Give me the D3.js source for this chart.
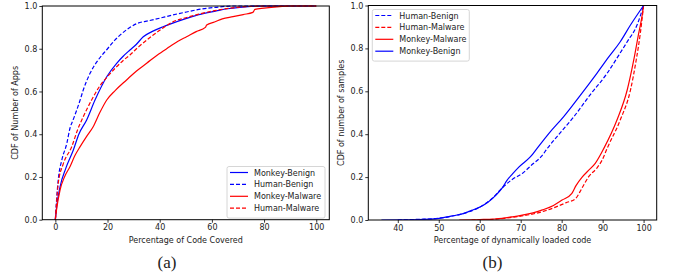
<!DOCTYPE html>
<html>
<head>
<meta charset="utf-8">
<script src="https://cdn.jsdelivr.net/npm/d3@7"></script>
<style>
  body { margin: 0; background: #fff; }
  svg text { font-family: "DejaVu Sans", sans-serif; fill: #222; }
</style>
</head>
<body>
<svg id="chart" width="673" height="276"></svg>
<script>
// ---- data: [x, cdf] ----
// (a) code coverage
const aMonkeyBenign = [[0,0],[0.5,0.06],[1.8,0.154],[4,0.24],[6.9,0.326],[9,0.4],[12,0.467],[15.2,0.56],[19.7,0.669],[23.5,0.732],[26,0.765],[28.6,0.794],[31,0.82],[33.7,0.856],[37,0.88],[41.3,0.903],[45,0.92],[50.3,0.942],[55,0.96],[61.7,0.977],[66,0.987],[70.7,0.994],[75,0.998],[80,1],[100,1]];
const aHumanBenign = [[0,0],[0.4,0.08],[1.1,0.186],[2.5,0.28],[4.4,0.357],[5.6,0.428],[6.9,0.47],[9.5,0.56],[10.7,0.607],[13.3,0.685],[16.4,0.747],[20,0.8],[22.8,0.84],[25,0.866],[28,0.895],[31.1,0.917],[36.2,0.932],[40,0.943],[45,0.958],[50.3,0.972],[55,0.984],[61.7,0.994],[68,1],[100,1]];
const aMonkeyMalware = [[0,0],[0.5,0.05],[1.8,0.139],[3.5,0.2],[5.6,0.248],[7.5,0.3],[9.5,0.342],[12,0.39],[14.5,0.435],[17,0.5],[19.7,0.56],[23,0.605],[27.3,0.654],[31,0.695],[35,0.732],[39,0.77],[43.9,0.81],[47,0.835],[50.3,0.856],[54,0.88],[57.5,0.9],[58,0.911],[61,0.925],[64,0.94],[68.1,0.95],[72,0.96],[75.7,0.97],[76.5,0.984],[80,0.99],[86,0.997],[90,1],[100,1]];
const aHumanMalware = [[0,0],[0.4,0.07],[1.1,0.17],[3,0.26],[6.3,0.342],[8.5,0.42],[10.7,0.482],[13.9,0.56],[17,0.625],[20,0.67],[23,0.71],[26,0.745],[28.6,0.771],[32,0.81],[35,0.84],[37.5,0.864],[41,0.895],[45.1,0.926],[50,0.945],[55,0.962],[61,0.978],[67,0.99],[73,0.997],[80,1],[100,1]];

// (b) dynamically loaded code
const bHumanBenign = [[40,0],[45,0.003],[50,0.008],[53,0.017],[56,0.03],[60,0.06],[63,0.1],[65.5,0.15],[68,0.19],[70.4,0.217],[73,0.262],[75,0.295],[76.5,0.334],[79.8,0.41],[83,0.482],[87,0.585],[91.1,0.684],[94,0.77],[96,0.831],[98.4,0.909],[100,1]];
const bHumanMalware = [[58,0],[62,0.002],[66,0.008],[70,0.018],[73,0.028],[76,0.043],[78.5,0.06],[81,0.08],[83.4,0.1],[85,0.15],[86.6,0.202],[88.5,0.24],[89.9,0.28],[91.1,0.334],[94.3,0.466],[96.8,0.606],[98.2,0.746],[99.2,0.87],[100,1]];
const bMonkeyMalware = [[55,0],[60,0.002],[65.5,0.008],[68,0.015],[70.4,0.023],[73,0.033],[75.3,0.047],[78,0.068],[80.1,0.093],[82.5,0.124],[83.5,0.16],[85,0.2],[86.5,0.23],[88.2,0.264],[90.3,0.334],[93.5,0.466],[96,0.606],[97.6,0.746],[98.8,0.87],[99.6,0.948],[100,1]];
const bMonkeyBenign = [[36,0],[45,0.002],[50.1,0.008],[53,0.018],[56.2,0.031],[58,0.045],[60.2,0.062],[62,0.083],[63.9,0.115],[65.5,0.15],[66.7,0.186],[68,0.215],[69.6,0.248],[72.4,0.295],[74,0.334],[76.9,0.404],[80.5,0.482],[84.5,0.58],[88.6,0.684],[91.5,0.76],[94.3,0.831],[96.8,0.909],[100,1]];

const aXTicks = [0, 20, 40, 60, 80, 100];
const bXTicks = [40, 50, 60, 70, 80, 90, 100];
const yTicks = [0, 0.2, 0.4, 0.6, 0.8, 1.0];

const blue = "#0000ff", red = "#ff0000";

const svg = d3.select("#chart");

function drawPanel(cfg) {
    const x = d3.scaleLinear().domain(cfg.xDomain).range([cfg.left, cfg.right]);
    const y = d3.scaleLinear().domain([0, 1]).range([cfg.bottom, cfg.top]);
    const g = svg.append("g");

    // clip so flat tails at y=1 sit under the top spine
    const clipId = "clip-" + cfg.id;
    svg.append("clipPath").attr("id", clipId).append("rect")
        .attr("x", cfg.left).attr("y", cfg.top - 1)
        .attr("width", cfg.right - cfg.left).attr("height", cfg.bottom - cfg.top + 1);

    const line = d3.line().curve(d3.curveMonotoneX).x(d => x(d[0])).y(d => y(d[1]));
    const lines = g.append("g").attr("clip-path", `url(#${clipId})`);
    cfg.series.forEach(s => {
        lines.append("path")
            .attr("d", line(s.data))
            .attr("fill", "none")
            .attr("stroke", s.color)
            .attr("stroke-width", 1.2)
            .attr("stroke-dasharray", s.dashed ? "4,2" : null);
    });

    const xAxis = d3.axisBottom(x).tickValues(cfg.xTicks).tickSize(3).tickPadding(2).tickFormat(d3.format("d"));
    const yAxis = d3.axisLeft(y).tickValues(yTicks).tickSize(3).tickPadding(2).tickFormat(d3.format(".1f"));

    const gx = g.append("g").attr("transform", `translate(0,${cfg.bottom})`).call(xAxis);
    const gy = g.append("g").attr("transform", `translate(${cfg.left},0)`).call(yAxis);
    [gx, gy].forEach(a => {
        a.select(".domain").remove();
        a.selectAll("line").attr("stroke", "#000").attr("stroke-width", 0.8);
        a.selectAll("text").attr("font-size", 8).attr("fill", "#222")
            .style("font-family", "DejaVu Sans, sans-serif");
    });

    // spines
    g.append("rect")
        .attr("x", cfg.left).attr("y", cfg.top)
        .attr("width", cfg.right - cfg.left).attr("height", cfg.bottom - cfg.top)
        .attr("fill", "none").attr("stroke", "#000").attr("stroke-width", 1);

    g.append("text")
        .attr("x", (cfg.left + cfg.right) / 2).attr("y", cfg.bottom + 23)
        .attr("text-anchor", "middle").attr("font-size", 8)
        .text(cfg.xLabel);

    g.append("text")
        .attr("transform", `translate(${cfg.yLabelX},${(cfg.top + cfg.bottom) / 2}) rotate(-90)`)
        .attr("text-anchor", "middle").attr("font-size", 8)
        .text(cfg.yLabel);

    g.append("text")
        .attr("x", cfg.captionX).attr("y", 268)
        .attr("text-anchor", "middle").attr("font-size", 17)
        .style("font-family", "Liberation Serif, Times New Roman, serif")
        .text(cfg.caption);

    // legend
    const lg = g.append("g").attr("transform", `translate(${cfg.legend.x},${cfg.legend.y})`);
    lg.append("rect")
        .attr("width", cfg.legend.w).attr("height", cfg.series.length * 11.9 + 4)
        .attr("rx", 2).attr("fill", "#fff").attr("fill-opacity", 0.8)
        .attr("stroke", "#ccc").attr("stroke-width", 0.8);
    cfg.legendOrder.forEach((i, k) => {
        const s = cfg.series[i];
        const yy = 6 + k * 11.9;
        lg.append("line")
            .attr("x1", 3).attr("x2", 21).attr("y1", yy).attr("y2", yy)
            .attr("stroke", s.color).attr("stroke-width", 1.2)
            .attr("stroke-dasharray", s.dashed ? "4,2" : null);
        lg.append("text")
            .attr("x", 27).attr("y", yy + 3).attr("font-size", 8)
            .text(s.name);
    });
}

drawPanel({
    id: "a",
    left: 42.3, right: 329.3, top: 6, bottom: 219.7,
    xDomain: [-5, 105], xTicks: aXTicks,
    xLabel: "Percentage of Code Covered",
    yLabel: "CDF of Number of Apps", yLabelX: 18,
    caption: "(a)", captionX: 167,
    series: [
        { name: "Monkey-Benign", data: aMonkeyBenign, color: blue, dashed: false },
        { name: "Human-Benign", data: aHumanBenign, color: blue, dashed: true },
        { name: "Monkey-Malware", data: aMonkeyMalware, color: red, dashed: false },
        { name: "Human-Malware", data: aHumanMalware, color: red, dashed: true }
    ],
    legendOrder: [0, 1, 2, 3],
    legend: { x: 227, y: 166.5, w: 98 }
});

drawPanel({
    id: "b",
    left: 368.3, right: 656.7, top: 5.5, bottom: 220,
    xDomain: [32.8, 103.2], xTicks: bXTicks,
    xLabel: "Percentage of dynamically loaded code",
    yLabel: "CDF of number of samples", yLabelX: 344,
    caption: "(b)", captionX: 492.5,
    series: [
        { name: "Human-Benign", data: bHumanBenign, color: blue, dashed: true },
        { name: "Human-Malware", data: bHumanMalware, color: red, dashed: true },
        { name: "Monkey-Malware", data: bMonkeyMalware, color: red, dashed: false },
        { name: "Monkey-Benign", data: bMonkeyBenign, color: blue, dashed: false }
    ],
    legendOrder: [0, 1, 2, 3],
    legend: { x: 372.3, y: 9.5, w: 97 }
});
</script>
</body>
</html>
